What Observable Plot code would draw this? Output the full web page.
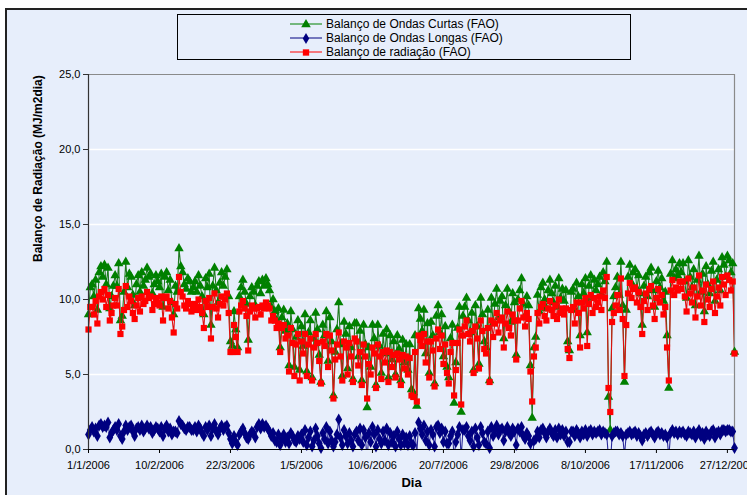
<!DOCTYPE html>
<html>
<head>
<meta charset="utf-8">
<script src="https://cdn.jsdelivr.net/npm/d3@7"></script>
<script src="https://cdn.jsdelivr.net/npm/@observablehq/plot@0.6"></script>
<style>
  html, body { margin: 0; padding: 0; background: #ffffff; overflow: hidden; }
  #wrap { position: relative; width: 747px; height: 495px; overflow: hidden; font-family: "Liberation Sans", Arial, sans-serif; }
  #area { position: absolute; left: 5px; top: 8px; width: 760px; height: 500px; background: #E7EEFB; border-top: 2px solid #222; border-left: 2px solid #222; }
  #chart { position: absolute; left: 0; top: 0; }
  #legend { position: absolute; left: 177px; top: 14px; width: 454px; height: 46px; border: 1px solid #000; background: #E7EEFB; box-sizing: border-box; }
  .row { position: absolute; left: 112px; height: 14px; display: flex; align-items: center; font-size: 12px; color: #000; white-space: nowrap; }
  .row svg { margin-right: 4px; }
</style>
</head>
<body>
<div id="wrap">
  <div id="area"></div>
  <div id="chart"></div>
  <div id="legend"></div>
</div>
<script>
// ---- Data: daily values for 2006 (one line per month) ----
const ondasCurtas = [
  9.0,10.8,11.0,10.2,11.3,9.3,11.8,12.2,11.5,12.3,11.0,12.1,9.4,10.2,10.9,11.6,10.9,12.4,8.6,8.9,10.5,12.5,10.8,11.7,11.5,10.3,9.6,11.0,11.6,10.5,11.8,
  10.9,11.3,12.1,11.5,11.7,10.4,11.0,11.6,11.2,10.8,11.7,9.5,11.5,11.8,10.6,11.3,9.8,9.0,10.9,10.5,13.4,12.2,11.8,11.0,10.7,11.4,11.2,10.5,
  10.8,11.2,10.5,11.6,10.9,10.2,9.0,11.4,10.8,11.7,8.3,10.9,12.1,10.6,9.8,11.1,11.8,10.9,11.5,12.0,10.2,7.2,6.9,9.2,8.0,6.8,10.2,10.8,11.3,10.5,9.7,
  7.3,10.2,10.8,10.5,9.6,10.9,11.2,10.4,11.3,10.9,11.4,11.0,10.6,9.5,10.0,9.2,8.6,9.4,6.8,8.8,9.3,7.9,8.4,5.6,9.2,8.0,5.5,7.5,8.6,5.3,
  8.2,6.9,9.0,5.2,7.8,8.6,4.8,7.4,9.1,8.0,6.3,4.5,8.3,7.6,9.2,5.9,8.8,7.2,3.6,6.5,8.0,9.8,7.0,4.9,8.5,7.7,5.4,8.2,6.8,4.7,8.4,
  8.4,6.2,7.9,4.6,8.3,7.0,2.8,6.8,5.5,8.3,7.4,4.3,8.3,6.9,5.1,7.7,6.4,8.0,4.8,7.6,6.0,7.2,5.0,7.6,6.7,4.6,7.3,5.8,7.0,5.3,
  7.0,4.0,3.8,7.6,2.9,9.4,8.7,7.9,9.3,6.4,8.4,5.1,8.5,7.6,4.4,8.9,9.6,7.8,9.0,6.2,8.2,5.5,4.8,7.4,8.3,3.1,5.8,8.1,9.5,2.5,8.9,
  9.5,10.1,8.6,7.8,9.1,5.3,9.6,8.2,5.7,10.1,9.0,7.2,6.8,9.3,4.6,10.1,8.4,9.7,10.7,8.8,9.9,10.2,7.4,9.6,10.7,9.2,8.5,10.4,9.8,6.3,10.0,
  10.6,11.4,9.7,8.9,10.2,9.6,5.6,2.1,6.8,7.5,10.3,9.2,10.8,11.1,10.0,9.4,10.6,11.3,10.4,9.8,10.9,9.5,11.4,10.1,10.7,9.9,10.6,7.2,6.6,10.5,
  10.7,9.3,11.1,10.2,7.6,11.0,10.4,11.4,7.8,10.9,11.6,10.1,11.3,10.6,11.0,11.5,10.3,11.8,11.2,12.5,3.5,1.3,9.4,10.2,10.8,11.5,10.3,12.5,9.6,4.5,9.3,
  11.5,12.3,11.1,11.8,12.0,10.7,11.6,10.4,8.3,10.9,11.5,10.2,11.8,12.1,10.6,9.5,11.2,11.9,10.8,11.4,9.9,10.5,7.6,4.1,11.7,12.6,11.4,12.0,11.6,12.4,
  11.8,12.4,11.2,10.1,12.6,11.5,10.8,12.0,9.6,11.3,12.9,10.5,11.7,9.2,12.2,11.0,10.4,11.9,12.5,9.9,11.3,12.0,10.6,12.8,12.3,11.5,12.9,12.6,11.8,12.4,6.5
];
const ondasLongas = [
  1.0,1.3,1.5,1.2,1.4,0.9,1.6,1.7,1.5,1.6,1.5,1.8,0.8,1.1,1.3,1.5,1.3,1.7,0.9,0.7,1.2,1.6,1.3,1.5,1.6,1.2,0.9,1.4,1.5,1.3,1.6,
  1.2,1.4,1.6,1.4,1.5,1.1,1.3,1.5,1.4,1.2,1.5,0.9,1.4,1.6,1.2,1.4,1.0,1.2,1.2,1.1,1.9,1.7,1.6,1.4,1.3,1.5,1.5,1.3,
  1.3,1.5,1.2,1.6,1.4,1.1,0.9,1.5,1.3,1.6,0.9,1.4,1.7,1.2,1.0,1.4,1.6,1.3,1.5,1.6,1.1,0.7,0.4,0.9,0.5,0.3,1.0,1.2,1.4,1.1,0.8,
  0.7,1.0,1.2,1.1,0.8,1.5,1.7,1.4,1.7,1.5,1.6,1.4,1.2,0.9,1.1,0.6,0.5,1.0,0.3,0.7,1.0,0.5,0.8,0.4,1.1,0.9,0.6,0.5,0.9,0.7,
  1.0,0.5,1.3,0.3,0.8,1.2,0.2,0.6,1.4,0.9,0.4,0.1,1.1,0.7,1.5,0.4,1.2,0.6,0.2,0.5,1.0,2.0,0.8,0.3,1.3,0.9,0.4,1.1,0.6,0.2,1.0,
  1.2,0.6,1.4,0.3,1.3,0.8,-0.6,1.1,0.5,1.5,1.0,0.2,1.3,0.7,0.4,1.2,0.6,1.4,0.3,1.1,0.5,0.9,0.2,1.2,0.7,0.3,1.0,0.4,0.8,0.3,
  0.9,0.4,0.3,1.1,-0.3,1.8,1.4,1.0,1.6,0.6,1.2,0.3,1.3,1.0,0.2,1.5,1.6,1.1,1.4,0.5,1.2,0.4,0.4,0.9,1.2,-0.5,0.5,1.0,1.5,-0.5,1.3,
  1.3,1.5,0.9,0.6,1.2,0.2,1.4,0.8,0.3,1.5,1.1,0.5,0.4,1.2,0.1,1.5,0.9,1.3,1.6,1.0,1.3,1.4,0.6,1.2,1.5,1.1,0.9,1.4,1.2,0.3,1.4,
  1.2,1.5,0.9,0.7,1.1,0.9,0.4,-1.1,0.6,0.7,1.2,0.8,1.3,1.4,1.1,0.8,1.2,1.4,1.1,0.9,1.3,0.8,1.4,1.0,1.3,0.9,1.2,0.5,0.5,1.2,
  1.2,0.9,1.3,1.1,0.8,1.2,1.0,1.3,0.9,1.2,1.3,1.0,1.2,1.1,1.2,1.3,1.0,1.2,1.1,1.0,-0.6,-1.2,0.9,1.1,1.2,1.2,1.0,1.1,0.9,-0.4,1.0,
  1.1,1.2,1.0,1.1,1.2,0.9,1.1,0.9,0.6,1.0,1.1,0.9,1.1,1.2,1.0,0.8,1.1,1.2,1.0,1.1,0.9,1.0,0.8,-0.5,1.1,1.3,1.1,1.2,1.0,1.2,
  1.1,1.2,1.0,0.9,1.2,1.1,1.0,1.2,0.8,1.1,1.3,0.9,1.1,0.7,1.2,1.0,0.9,1.2,1.3,0.8,1.1,1.2,1.0,1.3,1.3,1.2,1.3,1.3,1.2,1.2,0.1
];
const radiacao = [
  8.0,9.5,9.5,9.0,9.9,8.4,10.2,10.5,10.0,10.7,9.5,10.3,8.6,9.1,9.6,10.1,9.6,10.7,7.7,8.2,9.3,10.9,9.5,10.2,9.9,9.1,8.7,9.6,10.1,9.2,10.2,
  9.7,9.9,10.5,10.1,10.2,9.3,9.7,10.1,9.8,9.6,10.2,8.6,10.1,10.2,9.4,9.9,8.8,7.8,9.7,9.4,11.5,10.5,10.2,9.6,9.4,9.9,9.7,9.2,
  9.5,9.7,9.3,10.0,9.5,9.1,8.1,9.9,9.5,10.1,7.4,9.5,10.4,9.4,8.8,9.7,10.2,9.6,10.0,10.4,9.1,6.5,6.5,8.3,7.5,6.5,9.2,9.6,9.9,9.4,8.9,
  6.6,9.2,9.6,9.4,8.8,9.4,9.5,9.0,9.6,9.4,9.8,9.6,9.4,8.6,8.9,8.6,8.1,8.4,6.5,8.1,8.3,7.4,7.6,5.2,8.1,7.1,4.9,7.0,7.7,4.6,
  7.2,6.4,7.7,4.9,7.0,7.4,4.6,6.8,7.7,7.1,5.9,4.4,7.2,6.9,7.7,5.5,7.6,6.6,3.4,6.0,7.0,7.8,6.2,4.6,7.2,6.8,5.0,7.1,6.2,4.5,7.4,
  7.2,5.6,6.5,4.3,7.0,6.2,3.4,5.7,5.0,6.8,6.4,4.1,7.0,6.2,4.7,6.5,5.8,6.6,4.5,6.5,5.5,6.3,4.8,6.4,6.0,4.3,6.3,5.4,6.2,5.0,
  6.1,3.6,3.5,6.5,3.2,7.6,7.3,6.9,7.7,5.8,7.2,4.8,7.2,6.6,4.2,7.4,8.0,6.7,7.6,5.7,7.0,5.1,4.4,6.5,7.1,3.6,5.3,7.1,8.0,3.0,7.6,
  8.2,8.6,7.7,7.2,7.9,5.1,8.2,7.4,5.4,8.6,7.9,6.7,6.4,8.1,4.5,8.6,7.5,8.4,9.1,7.8,8.6,8.8,6.8,8.4,9.2,8.1,7.6,9.0,8.6,6.0,8.6,
  9.4,9.9,8.8,8.2,9.1,8.7,5.2,3.2,6.2,6.8,9.1,8.4,9.5,9.7,8.9,8.6,9.4,9.9,9.3,8.9,9.6,8.7,10.0,9.1,9.4,9.0,9.4,6.7,6.1,9.3,
  9.5,8.4,9.8,9.1,6.8,9.8,9.4,10.1,6.9,9.7,10.3,9.1,10.1,9.5,9.8,10.2,9.3,10.6,10.1,11.5,4.1,2.5,8.5,9.1,9.6,10.3,9.3,11.4,8.7,4.9,8.3,
  10.4,11.1,10.1,10.7,10.8,9.8,10.5,9.5,7.7,9.9,10.4,9.3,10.7,10.9,9.6,8.7,10.1,10.7,9.8,10.3,9.0,9.5,6.8,4.6,10.6,11.3,10.3,10.8,10.6,11.2,
  10.7,11.2,10.2,9.2,11.4,10.4,9.8,10.8,8.8,10.2,11.6,9.6,10.6,8.5,11.0,10.0,9.5,10.7,11.2,9.1,10.2,10.8,9.6,11.5,11.0,10.3,11.6,11.3,10.6,11.2,6.4
];
const yTicks = [0, 5, 10, 15, 20, 25];
const xTickDays = [0, 40, 80, 120, 160, 200, 240, 280, 320, 360];
const series = [
  {name: "Balanço de Ondas Curtas (FAO)", key: "curtas", color: "#008000", symbol: "triangle"},
  {name: "Balanço de Ondas Longas (FAO)", key: "longas", color: "#000080", symbol: "diamond"},
  {name: "Balanço de radiação (FAO)", key: "rad", color: "#FF0000", symbol: "square"}
];

// ---- Build table ----
const t0 = Date.UTC(2006, 0, 1);
const day = i => new Date(t0 + i * 864e5);
const table = ondasCurtas.map((v, i) => ({date: day(i), curtas: v, longas: ondasLongas[i], rad: radiacao[i]}));
const fmtDate = d => `${d.getUTCDate()}/${d.getUTCMonth() + 1}/${d.getUTCFullYear()}`;
const fmtNum = v => v.toFixed(1).replace(".", ",");
const xEnd = day(364);

const symR = {triangle: 3.5, diamond: 3.6, square: 3.5};
const lineColor = {curtas: "#1f7a1f", longas: "#2a2a9a", rad: "#e01010"};
const marks = [
  Plot.gridY([5, 10, 15, 20], {stroke: "#ffffff", strokeOpacity: 1, strokeWidth: 1.5}),
  Plot.ruleY([25], {stroke: "#8a8a8a", strokeWidth: 1.2}),
  Plot.ruleX([xEnd], {stroke: "#8a8a8a", strokeWidth: 1.2}),
];
for (const s of series) {
  marks.push(Plot.line(table, {x: "date", y: s.key, stroke: lineColor[s.key], strokeWidth: 1.1, clip: true}));
  marks.push(Plot.dot(table.filter(d => d[s.key] >= 0), {x: "date", y: s.key, symbol: s.symbol, fill: s.color, stroke: "none", r: symR[s.symbol]}));
}
marks.push(
  Plot.axisY(yTicks, {tickSize: 5, tickPadding: 3, tickFormat: fmtNum, stroke: "#333", fill: "#000", fontSize: 11}),
  Plot.ruleX([day(0)], {stroke: "#333", strokeWidth: 1.2}),
  Plot.axisX(xTickDays.map(day), {tickSize: 4, tickPadding: 8, tickFormat: fmtDate, stroke: "#000", fill: "#000", fontSize: 11}),
  Plot.ruleY([0], {stroke: "#000", strokeWidth: 1.2})
);

const chart = Plot.plot({
  width: 747,
  height: 495,
  marginLeft: 88,
  marginRight: 13,
  marginTop: 74,
  marginBottom: 46,
  style: {background: "transparent", fontFamily: "'Liberation Sans', Arial, sans-serif", fontSize: "11px", color: "#000", overflow: "hidden"},
  x: {type: "utc", domain: [day(0), xEnd], label: null},
  y: {domain: [0, 25], label: null},
  marks: [
    ...marks,
    Plot.text(["Balanço de Radiação (MJ/m2dia)"], {frameAnchor: "left", dx: -50, rotate: -90, fontWeight: "bold", fontSize: 12, fill: "#000"}),
    Plot.text(["Dia"], {frameAnchor: "bottom", dy: 37, fontWeight: "bold", fontSize: 13, fill: "#000"})
  ]
});
document.getElementById("chart").appendChild(chart);

// ---- Legend ----
const legend = document.getElementById("legend");
const symPath = {
  triangle: d3.symbol(d3.symbolTriangle, 40)(),
  diamond: d3.symbol(d3.symbolDiamond, 36)(),
  square: d3.symbol(d3.symbolSquare, 40)()
};
series.forEach((s, i) => {
  const row = document.createElement("div");
  row.className = "row";
  row.style.top = (2 + i * 14) + "px";
  row.innerHTML = `<svg width="32" height="14"><line x1="0" x2="32" y1="7" y2="7" stroke="${s.color}" stroke-width="1"/>` +
    `<path d="${symPath[s.symbol]}" transform="translate(16,7.5)" fill="${s.color}"/></svg><span>${s.name}</span>`;
  legend.appendChild(row);
});
</script>
</body>
</html>
